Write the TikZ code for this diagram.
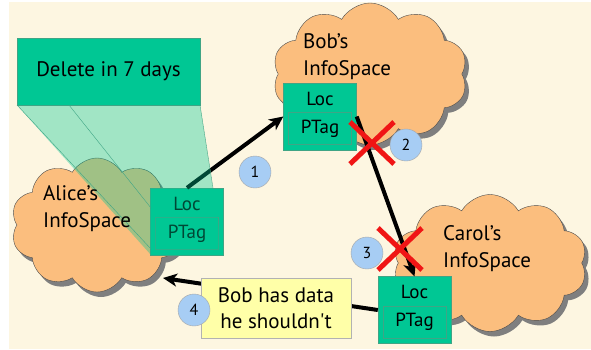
\documentclass[tikz,border=0pt]{standalone}
\usepackage{fontspec}
\setmainfont{PT Sans}
\usetikzlibrary{shapes.symbols}
\usetikzlibrary{shadows}
\usetikzlibrary{arrows.meta}
\definecolor{bgCream}{HTML}{FDF6E1}
\definecolor{cloudOrange}{HTML}{FBBE7E}
\definecolor{tagGreen}{HTML}{00C794}
\definecolor{tagEdge}{HTML}{3FA585}
\definecolor{bubbleBlue}{HTML}{A7CDF4}
\definecolor{noteYellow}{HTML}{FFFFA8}
\definecolor{shadowGray}{HTML}{7F7F7F}
\definecolor{crossRed}{HTML}{F01515}
\newcommand{\infoTag}[2]{%%
  %% The record with its location and its tag.
  \node[tagBox] (#1) at (#2) {};
  \node[tagInner] (#1PTag) at ([yshift=5.5pt]#1.south) {PTag};
  \node[tagText] (#1Loc) at ([yshift=-16pt]#1.north) {Loc};
}
\newcommand{\spaceLabel}[3]{%%
  %% Two lines of text inside a cloud.
  \node[nameText] (#1Name) at (#2) {#3};
  \node[nameText] (#1Space) at ([yshift=-27.5pt]#1Name.base west) {InfoSpace};
}
\newcommand{\crossMark}[1]{%%
  %% A red cross over a broken link.
  \draw[crossStyle] (#1) ++(-22,-21) -- ++(44,42) (#1) ++(-22,21) -- ++(44,-42);
}

\begin{document}
\begin{tikzpicture}[%%
  x=1pt,y=-1pt,%%
  cloudStyle/.style={cloud,cloud puffs=10,cloud puff arc=120,draw=black!70,fill=cloudOrange,
    inner sep=0pt,drop shadow={shadow xshift=4pt,shadow yshift=-5pt,fill=shadowGray,opacity=1}},%%
  tagBox/.style={draw=tagEdge,fill=tagGreen,minimum width=73pt,minimum height=67pt,inner sep=0pt},%%
  tagInner/.style={anchor=south,draw=tagEdge,minimum width=63pt,minimum height=32pt,inner sep=0pt,
    font=\fontsize{19}{22}\selectfont},%%
  tagText/.style={inner sep=0pt,font=\fontsize{19}{22}\selectfont},%%
  nameText/.style={anchor=base west,inner sep=0pt,font=\fontsize{21}{25}\selectfont},%%
  arrowStyle/.style={line width=4pt,-{Stealth[length=14pt,width=13pt,inset=4pt]}},%%
  crossStyle/.style={crossRed,line width=5pt},%%
  numStyle/.style={circle,draw=black!35,fill=bubbleBlue,minimum size=32pt,inner sep=0pt,
    font=\fontsize{16}{18}\selectfont},%%
]
%%
%% The page and its background.
\useasboundingbox (0,0) rectangle (591,349);
\fill[white] (0,0) rectangle (591,349);
\fill[bgCream] (9,2) rectangle (591,349);
%%
%% The three clouds.
\node[cloudStyle,minimum width=172pt,minimum height=134pt] (aliceCloud) at (97,225) {};
\node[cloudStyle,minimum width=195pt,minimum height=142pt] (bobCloud) at (370,74) {};
\node[cloudStyle,minimum width=194pt,minimum height=137pt] (carolCloud) at (490,263) {};
\spaceLabel{bob}{303,48}{Bob’s}
\spaceLabel{carol}{443,240}{Carol’s}
%%
%% The records.
\infoTag{aliceTag}{187,221.5}
\infoTag{bobTag}{320,116.5}
\infoTag{carolTag}{414.5,310}
\coordinate (aliceHit) at (163,278);
%%
%% The links.
\draw[arrowStyle] (aliceTag.north) -- (bobTag.west);
\draw[arrowStyle] (bobTag.east) -- (carolTag.north);
\draw[arrowStyle] (carolTag.west) -- (aliceHit);
%%
%% The callout over Alice's record.
\fill[tagGreen,fill opacity=0.36] (17,105) -- (200,105) -- (223,255) -- (151,255) -- cycle;
\draw[tagEdge,thin] (17,105) -- (151,249);
\draw[tagEdge,thin] (200,105) -- (213,188);
\draw[tagEdge,thin] (69,105) -- (151,208);
\node[draw=tagEdge,fill=tagGreen,minimum width=183pt,minimum height=67pt,inner sep=0pt,
  font=\fontsize{21}{25}\selectfont] (deleteNote) at (108.5,71.5) {Delete in 7 days};
\spaceLabel{alice}{43,200}{Alice’s}
%%
%% The broken links.
\crossMark{372,143}
\crossMark{400,249}
%%
%% The note on the last link.
\node[draw=black!30,fill=noteYellow,minimum width=150pt,minimum height=60pt,align=center,
  inner sep=0pt,font=\fontsize{21}{26}\selectfont] (bobNote) at (276,308) {Bob has data\\he shouldn\textquotesingle t};
%%
%% The steps.
\node[numStyle] (stepOne) at (255,172) {1};
\node[numStyle] (stepTwo) at (406,145) {2};
\node[numStyle] (stepThree) at (367,253) {3};
\node[numStyle] (stepFour) at (194,310) {4};
\end{tikzpicture}
\end{document}
